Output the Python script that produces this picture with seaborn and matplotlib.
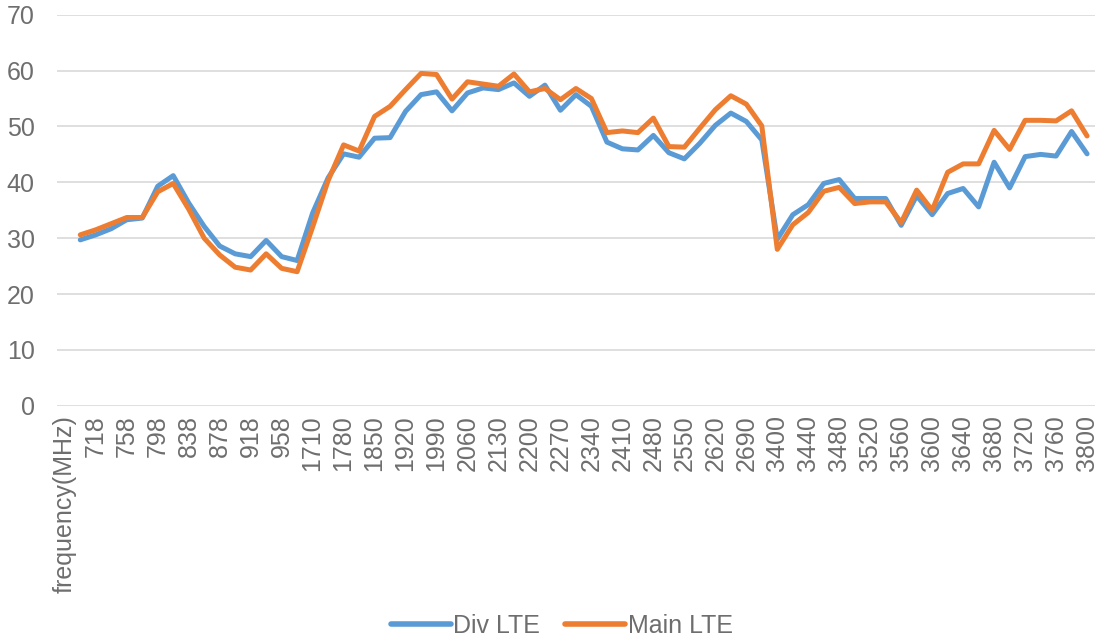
import numpy as np
import pandas as pd
import seaborn as sns
import matplotlib.pyplot as plt

# categorias del eje x (solo se rotula una de cada dos)
freqs = ["frequency(MHz)",
         "698", "718", "738", "758", "778", "798", "818", "838", "858", "878",
         "898", "918", "938", "958", "960",
         "1710", "1745", "1780", "1815", "1850", "1885", "1920", "1955", "1990",
         "2025", "2060", "2095", "2130", "2165", "2200", "2235", "2270", "2305",
         "2340", "2375", "2410", "2445", "2480", "2515", "2550", "2585", "2620",
         "2655", "2690", "2700",
         "3400", "3420", "3440", "3460", "3480", "3500", "3520", "3540", "3560",
         "3580", "3600", "3620", "3640", "3660", "3680", "3700", "3720", "3740",
         "3760", "3780", "3800"]

div_lte = [29.7, 30.6, 31.7, 33.3, 33.6, 39.3, 41.2, 36.3, 32.1, 28.6,
           27.2, 26.7, 29.6, 26.7, 26.0, 34.5, 40.8, 45.1, 44.5, 47.9,
           48.0, 52.7, 55.7, 56.2, 52.8, 56.0, 56.9, 56.6, 57.8, 55.4,
           57.4, 52.9, 55.7, 53.6, 47.2, 46.0, 45.8, 48.4, 45.3, 44.2,
           47.0, 50.2, 52.4, 50.9, 47.6, 29.8, 34.2, 36.0, 39.8, 40.5,
           37.1, 37.1, 37.1, 32.3, 37.6, 34.2, 38.0, 38.9, 35.6, 43.6,
           39.0, 44.6, 45.0, 44.7, 49.1, 45.1]

main_lte = [30.6, 31.5, 32.6, 33.7, 33.7, 38.3, 39.8, 35.2, 30.0, 27.0,
            24.8, 24.3, 27.2, 24.6, 24.0, 32.0, 40.3, 46.7, 45.6, 51.8,
            53.6, 56.6, 59.5, 59.3, 54.9, 58.0, 57.6, 57.2, 59.4, 56.2,
            56.8, 54.8, 56.8, 55.0, 48.9, 49.2, 48.9, 51.5, 46.4, 46.3,
            49.7, 53.0, 55.5, 54.0, 50.1, 28.0, 32.4, 34.6, 38.4, 39.1,
            36.2, 36.5, 36.5, 32.8, 38.6, 35.0, 41.8, 43.3, 43.3, 49.3,
            45.9, 51.1, 51.1, 51.0, 52.8, 48.3]

# tabla larga: la primera categoria no tiene datos
pos = np.arange(1, len(freqs))
df = pd.concat([
    pd.DataFrame({"pos": pos, "valor": div_lte, "serie": "Div LTE"}),
    pd.DataFrame({"pos": pos, "valor": main_lte, "serie": "Main LTE"}),
])

sns.set_theme(style="white")
plt.rcParams["font.family"] = ["Liberation Sans", "DejaVu Sans"]
gris = "#6E6E6E"

fig = plt.figure(figsize=(10.97, 6.42), dpi=100)
ax = fig.add_axes([0.052, 0.368, 0.946, 0.609])

sns.lineplot(data=df, x="pos", y="valor", hue="serie",
             palette={"Div LTE": "#5B9BD5", "Main LTE": "#ED7D31"},
             linewidth=3.6, ax=ax, legend=False, sort=False)
for ln in ax.lines:
    ln.set_solid_joinstyle("round")
    ln.set_solid_capstyle("round")

ax.set_xlim(-0.5, len(freqs) - 0.5)
ax.set_ylim(0, 70)
ax.set_yticks(range(0, 71, 10))
ax.set_xticks(range(0, len(freqs), 2))
ax.set_xticklabels(freqs[::2], rotation=90, va="top", ha="center")
ax.grid(axis="y", color="#D9D9D9", linewidth=1.2)
ax.set_axisbelow(True)
for s in ax.spines.values():
    s.set_visible(False)
ax.tick_params(axis="y", length=0, pad=16, labelsize=18, labelcolor=gris)
ax.tick_params(axis="x", length=0, pad=7, labelsize=18, labelcolor=gris)
ax.set_xlabel("")
ax.set_ylabel("")

# leyenda abajo centrada
h1, = ax.plot([], [], color="#5B9BD5", lw=4, solid_capstyle="round")
h2, = ax.plot([], [], color="#ED7D31", lw=4, solid_capstyle="round")
fig.legend([h1, h2], ["Div LTE", "Main LTE"], loc="center",
           bbox_to_anchor=(0.512, 0.025), ncol=2, frameon=False,
           fontsize=18, labelcolor=gris, handlelength=2.4,
           handletextpad=0.1, columnspacing=1.0)

fig.savefig("out.png", dpi=100)
